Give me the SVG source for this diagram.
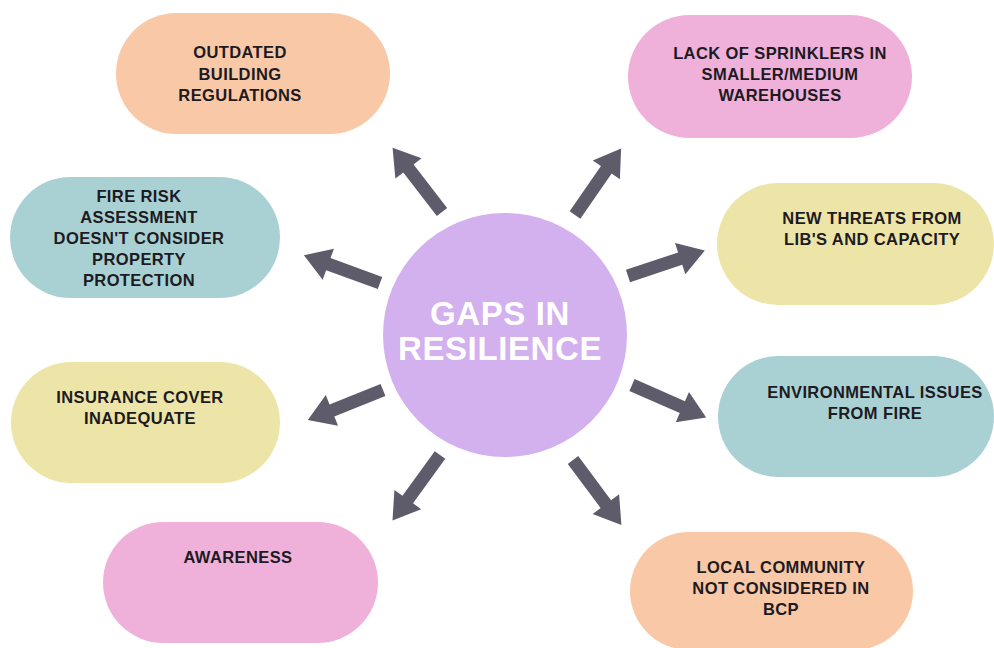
<svg xmlns="http://www.w3.org/2000/svg" xmlns:xlink="http://www.w3.org/1999/xlink" width="994" height="648" viewBox="0 0 994 648">
  <style>
    .pill { stroke: none; }
    .peach { fill: #f9c8a7; }
    .pink { fill: #efb1da; }
    .teal { fill: #a9d1d3; }
    .yellow { fill: #ede5a8; }
    .label { font-family: "Liberation Sans", Arial, sans-serif; font-weight: 700; font-size: 16.5px; letter-spacing: 0.4px; fill: #1d1a22; text-anchor: middle; }
    .hub-label { font-family: "Liberation Sans", Arial, sans-serif; font-weight: 700; font-size: 33px; letter-spacing: 0.6px; fill: #ffffff; text-anchor: middle; }
    .arrow { fill: #5e5c6b; }
  </style>
  <defs>
    <!-- right-pointing block arrow, tail at the origin -->
    <path id="arrow" d="M0,-6.5 L55,-6.5 L55,-16.5 L81,0 L55,16.5 L55,6.5 L0,6.5 Z"/>
  </defs>
  <rect width="994" height="648" fill="#ffffff"/>

  <g id="connectors" class="arrow">
    <use xlink:href="#arrow" href="#arrow" transform="translate(442,212) rotate(-127.6)"/>
    <use xlink:href="#arrow" href="#arrow" transform="translate(575,215) rotate(-55.3)"/>
    <use xlink:href="#arrow" href="#arrow" transform="translate(380,283) rotate(-160)"/>
    <use xlink:href="#arrow" href="#arrow" transform="translate(628,276) rotate(-18.4)"/>
    <use xlink:href="#arrow" href="#arrow" transform="translate(383,390) rotate(158.2)"/>
    <use xlink:href="#arrow" href="#arrow" transform="translate(632,385) rotate(23.7)"/>
    <use xlink:href="#arrow" href="#arrow" transform="translate(440,455) rotate(125.9)"/>
    <use xlink:href="#arrow" href="#arrow" transform="translate(573,460) rotate(53.3)"/>
  </g>

  <g id="hub">
    <circle cx="505" cy="335" r="122" fill="#d3b0ee"/>
    <text class="hub-label" x="500" y="325">GAPS IN</text>
    <text class="hub-label" x="500" y="360">RESILIENCE</text>
  </g>

  <g id="outdated-regulations">
    <rect class="pill peach" x="116" y="13" width="274" height="121" rx="60.5"/>
    <text class="label" x="240" y="58">OUTDATED</text>
    <text class="label" x="240" y="79.5">BUILDING</text>
    <text class="label" x="240" y="101">REGULATIONS</text>
  </g>

  <g id="fire-risk-assessment">
    <rect class="pill teal" x="10" y="177" width="270" height="121" rx="60.5"/>
    <text class="label" x="139" y="201.5">FIRE RISK</text>
    <text class="label" x="139" y="222.5">ASSESSMENT</text>
    <text class="label" x="139" y="243.5">DOESN'T CONSIDER</text>
    <text class="label" x="139" y="264.5">PROPERTY</text>
    <text class="label" x="139" y="285.5">PROTECTION</text>
  </g>

  <g id="insurance-cover">
    <rect class="pill yellow" x="11" y="362" width="269" height="121" rx="60.5"/>
    <text class="label" x="140" y="403">INSURANCE COVER</text>
    <text class="label" x="140" y="424">INADEQUATE</text>
  </g>

  <g id="awareness">
    <rect class="pill pink" x="103" y="522" width="275" height="121" rx="60.5"/>
    <text class="label" x="238" y="563">AWARENESS</text>
  </g>

  <g id="sprinklers">
    <rect class="pill pink" x="628" y="15" width="284" height="123" rx="61.5"/>
    <text class="label" x="780" y="58.5">LACK OF SPRINKLERS IN</text>
    <text class="label" x="780" y="80">SMALLER/MEDIUM</text>
    <text class="label" x="780" y="101">WAREHOUSES</text>
  </g>

  <g id="new-threats">
    <rect class="pill yellow" x="717" y="183" width="277" height="122" rx="61"/>
    <text class="label" x="872" y="224">NEW THREATS FROM</text>
    <text class="label" x="872" y="245">LIB'S AND CAPACITY</text>
  </g>

  <g id="environmental-issues">
    <rect class="pill teal" x="718" y="356" width="276" height="121" rx="60.5"/>
    <text class="label" x="875" y="397.5">ENVIRONMENTAL ISSUES</text>
    <text class="label" x="875" y="418.5">FROM FIRE</text>
  </g>

  <g id="local-community">
    <rect class="pill peach" x="630" y="532" width="283" height="118" rx="59"/>
    <text class="label" x="781" y="572.5">LOCAL COMMUNITY</text>
    <text class="label" x="781" y="593.5">NOT CONSIDERED IN</text>
    <text class="label" x="781" y="614.5">BCP</text>
  </g>
</svg>
